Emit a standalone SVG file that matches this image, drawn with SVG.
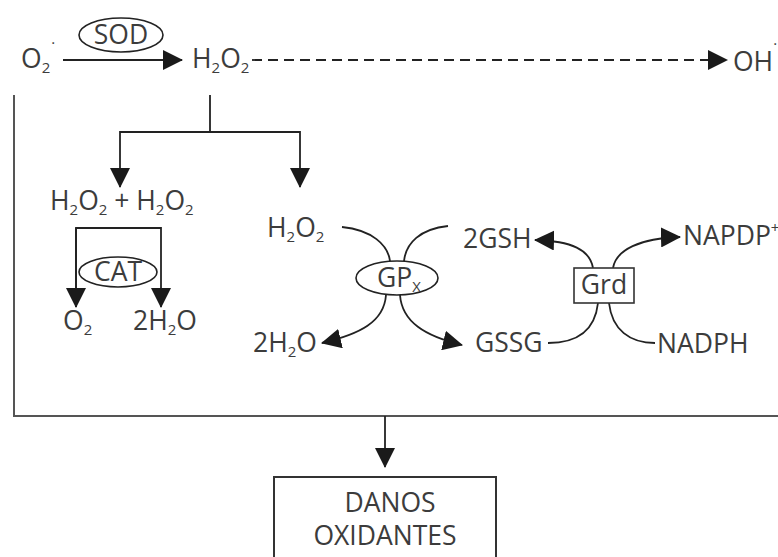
<svg xmlns="http://www.w3.org/2000/svg" width="778" height="557" viewBox="0 0 778 557">
<style>
text{font-family:"Open Sans","DejaVu Sans",sans-serif;font-size:26.5px;fill:#3c3c3c}
.sub{font-size:15px}
.dot{font-size:15px}
.mid{text-anchor:middle}
.ln{fill:none;stroke:#222;stroke-width:1.8}
.arr{marker-end:url(#ah)}
.frame{fill:none;stroke:#555;stroke-width:2}
.enz{fill:#fff;stroke:#222;stroke-width:1.6}
</style>
<defs>
<marker id="ah" markerUnits="userSpaceOnUse" markerWidth="20" markerHeight="20" viewBox="0 0 20 20" refX="19" refY="10" orient="auto">
<path d="M0,0 L20,10 L0,20 z" fill="#1a1a1a"/>
</marker>
</defs>
<rect width="778" height="557" fill="#fff"/>
<g id="connectors">
<line class="ln arr" x1="63" y1="60" x2="182" y2="60"/>
<line class="ln arr" x1="252" y1="60" x2="727" y2="60" stroke-dasharray="10 6"/>
<path class="frame" d="M14,95 V416 H778"/>
<path class="ln" d="M210,95 V132 M120,132 H300"/>
<line class="ln arr" x1="120" y1="131" x2="120" y2="187"/>
<line class="ln arr" x1="300" y1="131" x2="300" y2="187"/>
<path class="ln" d="M76,307 V228 H161"/>
<line class="ln arr" x1="76" y1="228" x2="76" y2="307"/>
<line class="ln arr" x1="161" y1="227" x2="161" y2="307"/>
<path class="ln" d="M342,227 C372,230 388,245 390,261"/>
<path class="ln" d="M448,226 C420,229 406,243 404,261"/>
<path class="ln arr" d="M386,295 C384,322 360,334 322,343"/>
<path class="ln arr" d="M400,295 C402,322 425,336 462,345"/>
<path class="ln arr" d="M593,268 C590,250 572,241 535,240"/>
<path class="ln arr" d="M613,268 C616,250 640,238 680,237"/>
<path class="ln" d="M598,303 C595,330 578,343 548,343"/>
<path class="ln" d="M609,303 C612,330 630,343 655,343"/>
<line class="ln arr" x1="385" y1="416" x2="385" y2="467"/>
</g>
<g id="o2rad"><text x="21" y="68">O<tspan class="sub" dy="5">2</tspan><tspan class="dot" dx="1" dy="-25">·</tspan></text></g>
<g id="sod"><ellipse class="enz" cx="121" cy="35" rx="42" ry="17"/><text class="mid" x="121" y="44">SOD</text></g>
<g id="h2o2-top"><text x="192" y="68">H<tspan class="sub" dy="5">2</tspan><tspan dy="-5">O</tspan><tspan class="sub" dy="5">2</tspan></text></g>
<g id="oh"><text x="733" y="71">OH<tspan class="dot" dy="-22">·</tspan></text></g>
<g id="h2o2-pair"><text x="50" y="210">H<tspan class="sub" dy="5">2</tspan><tspan dy="-5">O</tspan><tspan class="sub" dy="5">2</tspan><tspan dy="-5"> + H</tspan><tspan class="sub" dy="5">2</tspan><tspan dy="-5">O</tspan><tspan class="sub" dy="5">2</tspan></text></g>
<g id="cat"><ellipse class="enz" cx="118" cy="272" rx="39" ry="15"/><text class="mid" x="118" y="281">CAT</text></g>
<g id="o2"><text x="63" y="330">O<tspan class="sub" dy="5">2</tspan></text></g>
<g id="h2o-cat"><text x="133" y="330">2H<tspan class="sub" dy="5">2</tspan><tspan dy="-5">O</tspan></text></g>
<g id="h2o2-gpx"><text x="267" y="237">H<tspan class="sub" dy="5">2</tspan><tspan dy="-5">O</tspan><tspan class="sub" dy="5">2</tspan></text></g>
<g id="gpx"><ellipse class="enz" cx="397" cy="278" rx="41" ry="17"/><text x="377" y="287">GP<tspan class="sub" dy="5">X</tspan></text></g>
<g id="h2o-gpx"><text x="253" y="352">2H<tspan class="sub" dy="5">2</tspan><tspan dy="-5">O</tspan></text></g>
<g id="gssg"><text x="475" y="352">GSSG</text></g>
<g id="gsh"><text x="463" y="248">2GSH</text></g>
<g id="grd"><rect x="574" y="268" width="60" height="35" fill="#fff" stroke="#333" stroke-width="1.6"/><text class="mid" x="604" y="294">Grd</text></g>
<g id="napdp"><text x="683" y="245">NAPDP<tspan class="sub" dy="-12">+</tspan></text></g>
<g id="nadph"><text x="657" y="353">NADPH</text></g>
<g id="danos"><rect x="274" y="477" width="222" height="90" fill="#fff" stroke="#333" stroke-width="2"/><text class="mid" x="390" y="512">DANOS</text><text class="mid" x="385" y="545">OXIDANTES</text></g>
</svg>
